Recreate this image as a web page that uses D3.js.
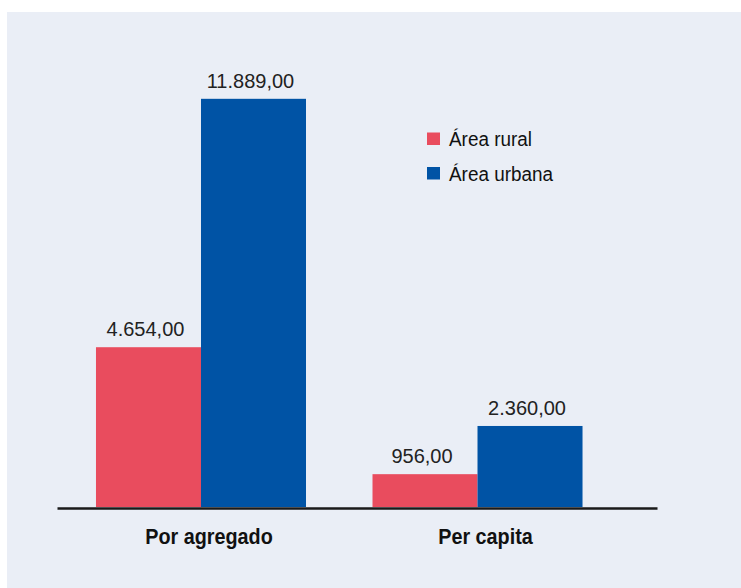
<!DOCTYPE html>
<html>
<head>
<meta charset="utf-8">
<script src="https://cdn.jsdelivr.net/npm/d3@7"></script>
<style>
  html, body { margin: 0; padding: 0; background: #ffffff; }
  svg { display: block; }
</style>
</head>
<body>
<svg id="chart" width="741" height="588"></svg>
<script>
const categories = ["Por agregado", "Per capita"];
const seriesNames = ["Área rural", "Área urbana"];
const ruralValues = [4654, 956];
const urbanValues = [11889, 2360];
const valueLabels = [["4.654,00", "11.889,00"], ["956,00", "2.360,00"]];
const colors = ["#e94c5e", "#0053a5"];

const svg = d3.select("#chart");
svg.append("rect").attr("x", 7).attr("y", 12).attr("width", 734).attr("height", 576).attr("fill", "#eaeef6");

const x0 = d3.scaleBand().domain(categories).range([62.8, 615.7]).paddingInner(0.2405).paddingOuter(0.12);
const x1 = d3.scaleBand().domain(seriesNames).range([0, x0.bandwidth()]);
const y = d3.scaleLinear().domain([0, 12000]).range([507, 95]);

const data = categories.map((c, i) => ({
  cat: c,
  vals: [
    { s: seriesNames[0], v: ruralValues[i], label: valueLabels[i][0] },
    { s: seriesNames[1], v: urbanValues[i], label: valueLabels[i][1] }
  ]
}));

const g = svg.append("g").selectAll("g").data(data).join("g")
  .attr("transform", d => `translate(${x0(d.cat)},0)`);

g.selectAll("rect").data(d => d.vals).join("rect")
  .attr("x", d => x1(d.s))
  .attr("width", x1.bandwidth())
  .attr("y", d => y(d.v))
  .attr("height", d => y(0) - y(d.v))
  .attr("fill", (d, i) => colors[i]);

g.selectAll("text.val").data(d => d.vals).join("text")
  .attr("class", "val")
  .attr("x", d => x1(d.s) + x1.bandwidth() / 2 - 3)
  .attr("y", d => y(d.v) - 11)
  .attr("text-anchor", "middle")
  .attr("font-family", "'Liberation Sans', Arial, sans-serif")
  .attr("font-size", 20)
  .attr("fill", "#222")
  .text(d => d.label);

// baseline axis
const axis = d3.axisBottom(d3.scaleLinear().range([57, 657])).ticks(0).tickSize(0).tickFormat("");
const ax = svg.append("g").attr("transform", `translate(0,${y(0) + 1})`).call(axis);
ax.select(".domain").attr("stroke", "#1a1a1a").attr("stroke-width", 2.6);

svg.append("g").selectAll("text").data(categories).join("text")
  .attr("transform", d => `translate(${x0(d) + x0.bandwidth() / 2 + 8},544) scale(0.9,1)`)
  .attr("text-anchor", "middle")
  .attr("font-family", "'Liberation Sans', Arial, sans-serif")
  .attr("font-weight", "bold")
  .attr("font-size", 22)
  .attr("fill", "#111")
  .text(d => d);

const leg = svg.append("g").selectAll("g").data(seriesNames).join("g")
  .attr("transform", (d, i) => `translate(427,${132.5 + i * 34.5})`);
leg.append("rect").attr("width", 13).attr("height", 12.5).attr("fill", (d, i) => colors[i]);
leg.append("text")
  .attr("transform", "translate(22,13.5) scale(0.945,1)")
  .attr("font-family", "'Liberation Sans', Arial, sans-serif")
  .attr("font-size", 20)
  .attr("fill", "#111")
  .text(d => d);
</script>
</body>
</html>
